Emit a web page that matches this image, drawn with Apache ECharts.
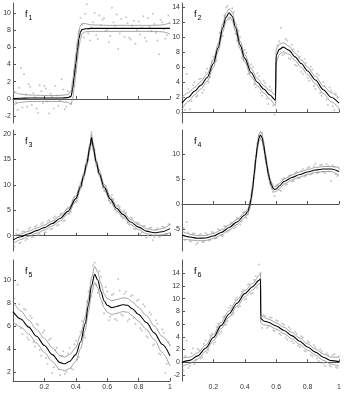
<!DOCTYPE html>
<html>
<head>
<meta charset="utf-8">
<script src="https://cdn.jsdelivr.net/npm/echarts@6/dist/echarts.min.js"></script>
<style>
  html, body { margin: 0; padding: 0; background: #fff; }
  #chart { width: 350px; height: 397px; }
</style>
</head>
<body>
<div id="chart"></div>
<script>
// x positions of the noisy observations (two interleaved sets, same in every panel)
const ptXa = [0.01,0.03,0.05,0.07,0.09,0.11,0.13,0.15,0.17,0.19,0.21,0.23,0.25,0.27,0.29,0.31,0.33,0.35,0.37,0.39,
  0.41,0.43,0.45,0.47,0.49,0.51,0.53,0.55,0.57,0.59,0.61,0.63,0.65,0.67,0.69,0.71,0.73,0.75,0.77,0.79,
  0.81,0.83,0.85,0.87,0.89,0.91,0.93,0.95,0.97,0.99]
const ptXb = [0.02,0.04,0.06,0.08,0.10,0.12,0.14,0.16,0.18,0.20,0.22,0.24,0.26,0.28,0.30,0.32,0.34,0.36,0.38,0.40,
  0.42,0.44,0.46,0.48,0.50,0.52,0.54,0.56,0.58,0.60,0.62,0.64,0.66,0.68,0.70,0.72,0.74,0.76,0.78,0.80,
  0.82,0.84,0.86,0.88,0.90,0.92,0.94,0.96,0.98,1.00]

const f1PtsA = [0.8,-1.3,3.6,2.9,-0.9,1.4,0.7,-1.1,1.6,-0.5,1.2,-1.7,0.3,1.5,-0.8,2.3,-1.2,0.9,-0.6,3.2,
  6.3,9.4,7.1,11.0,6.8,8.9,7.4,9.7,9.2,7.9,6.6,10.6,8.5,5.8,9.3,7.2,8.8,6.9,9.1,8.0,
  7.5,9.6,6.7,8.4,9.9,7.7,5.2,8.9,7.0,9.7]
const f1PtsB = [-0.4,1.3,-1.0,0.5,1.7,-0.7,0.2,-1.6,0.9,1.5,-0.3,0.6,-1.1,0.4,-0.2,1.1,-0.9,0.3,1.4,3.9,
  7.9,8.6,9.9,7.6,8.3,10.0,7.0,8.6,9.4,8.1,7.3,8.9,9.8,7.6,8.2,9.5,7.1,8.5,6.4,9.0,
  8.3,7.1,9.4,7.9,8.7,6.8,9.2,8.1,7.4,8.8]
const f2PtsA = [1.9,5.1,0.4,3.6,2.1,4.4,2.6,5.3,4.0,6.8,7.2,9.1,10.2,12.9,14.2,12.6,13.4,9.6,10.1,7.0,
  7.9,5.2,6.0,3.3,4.8,2.2,3.9,1.1,3.0,-0.3,8.9,11.3,7.8,9.6,7.1,8.4,6.2,7.4,5.1,6.6,
  4.2,5.7,3.1,4.9,2.2,3.5,1.0,2.9,0.3,1.9]
const f2PtsB = [0.3,3.1,1.5,4.0,2.2,4.5,3.0,5.8,4.7,7.4,6.9,10.6,10.2,14.0,12.4,13.9,10.5,10.9,7.3,8.3,
  5.1,6.4,3.7,5.2,2.6,4.2,1.8,3.4,0.9,6.6,9.5,7.6,9.8,7.2,9.0,6.3,8.1,5.4,7.1,4.6,
  6.1,3.5,5.1,2.6,4.0,1.7,3.3,0.8,2.5,0.4]
const f3PtsA = [-2.1,1.2,-1.4,0.9,-0.6,1.6,-0.3,2.0,0.4,2.6,0.7,3.1,1.4,3.8,2.2,4.4,3.0,5.6,4.7,7.6,
  6.8,10.4,11.1,15.0,17.2,18.1,13.7,12.9,9.5,9.8,6.9,8.0,5.1,6.0,3.8,4.9,2.5,3.6,1.4,2.6,
  0.3,1.9,-0.4,1.5,-0.9,1.2,-0.2,1.8,0.4,2.3]
const f3PtsB = [0.4,-1.5,0.8,-0.9,1.4,-0.2,1.8,0.2,2.3,0.6,2.8,1.3,3.5,2.0,4.3,2.9,5.2,4.3,7.0,6.5,
  9.6,9.9,13.8,14.9,20.4,16.9,12.5,12.0,8.8,9.1,6.4,7.2,4.6,5.7,3.4,4.5,2.2,3.4,1.3,2.5,
  0.6,1.9,0.0,1.6,-0.3,1.5,-0.1,1.7,0.3,2.2]
const f4PtsA = [-4.8,-3.6,-7.4,-5.9,-8.1,-6.2,-7.6,-5.8,-7.3,-5.6,-6.9,-5.0,-6.3,-4.4,-5.6,-3.7,-4.9,-2.8,-4.1,-1.7,
  -2.8,0.3,3.0,9.6,13.7,14.2,9.1,6.8,3.1,1.6,3.9,2.6,5.2,3.9,5.8,4.6,6.4,5.2,7.0,5.7,
  7.4,6.1,8.1,6.3,7.9,6.2,7.6,4.6,7.4,5.6]
const f4PtsB = [-7.2,-5.7,-7.5,-5.9,-7.8,-6.0,-7.6,-6.1,-7.2,-5.7,-6.8,-5.2,-6.4,-4.5,-5.3,-3.9,-4.6,-2.9,-3.5,-1.6,
  -2.1,1.9,5.2,12.2,13.1,11.0,8.4,4.0,2.4,3.7,2.8,4.9,3.8,5.6,4.5,6.2,5.1,6.6,5.5,7.2,
  5.9,7.6,6.2,7.8,6.4,8.0,6.5,7.7,6.0,7.1]
const f5PtsA = [8.4,9.6,5.8,7.5,5.0,6.9,4.6,6.2,3.9,5.4,3.2,4.8,1.9,3.9,2.2,3.4,1.8,3.6,2.3,4.4,
  3.1,5.5,5.2,8.1,8.4,11.3,9.6,10.8,8.0,9.4,6.5,8.7,6.6,10.1,7.0,8.8,6.4,8.6,6.7,8.2,
  5.8,7.9,5.1,7.2,4.3,6.5,3.6,5.7,1.9,4.6]
const f5PtsB = [6.1,7.9,5.3,7.4,4.8,6.7,4.2,6.1,3.4,5.6,2.7,4.9,2.4,4.1,1.7,3.8,2.0,4.1,2.2,4.7,
  3.3,6.4,5.0,9.0,8.6,11.5,8.9,10.3,7.1,9.0,6.8,8.8,6.5,9.1,6.9,9.0,6.6,8.7,6.2,8.3,
  5.6,7.7,5.0,7.0,4.4,6.2,3.5,5.4,2.7,4.3]
const f6PtsA = [-1.3,3.4,-0.6,2.2,0.3,1.9,0.8,3.4,1.9,4.5,3.2,6.1,4.8,7.3,6.4,8.9,7.7,10.2,8.8,11.4,
  10.0,12.3,10.9,13.6,15.4,5.4,7.3,5.6,7.0,4.9,6.5,4.3,5.9,3.6,5.2,3.0,4.5,2.4,3.9,1.7,
  3.1,0.9,2.4,0.2,1.7,-0.6,1.2,-0.7,1.3,-0.9]
const f6PtsB = [1.0,-0.9,1.4,-0.3,2.1,0.6,2.9,1.5,4.2,2.9,5.6,4.4,7.1,5.9,8.6,7.4,9.9,8.7,11.1,9.9,
  12.2,10.8,13.0,11.7,14.1,7.4,5.4,7.1,5.0,6.6,4.5,6.1,3.9,5.5,3.3,4.8,2.6,4.1,1.8,3.3,
  1.2,2.7,0.6,2.0,-0.1,1.4,-0.5,1.1,-0.8,0.9]

// fitted curve (mid) and the two band curves (hi, lo)
const f1X = [0,0.05,0.1,0.2,0.3,0.35,0.37,0.38,0.39,0.40,0.41,0.42,0.43,0.44,0.46,0.5,0.6,0.7,0.8,0.9,0.95,1]
const f1Mid = [0.05,0.08,0.1,0.1,0.1,0.15,0.3,1.2,2.6,4.1,5.6,7.0,7.8,8.05,8.15,8.2,8.2,8.2,8.2,8.2,8.2,8.2]
const f1Hi = [0.85,0.55,0.45,0.4,0.4,0.5,0.9,2.1,3.6,5.2,6.7,7.9,8.55,8.8,8.75,8.6,8.55,8.55,8.55,8.55,8.6,8.85]
const f1Lo = [-0.7,-0.4,-0.3,-0.3,-0.3,-0.4,-0.6,0.0,1.3,2.9,4.5,6.0,7.0,7.6,7.8,7.85,7.85,7.85,7.85,7.85,7.8,7.55]

const f2X = [0,0.04,0.08,0.12,0.16,0.2,0.23,0.26,0.28,0.3,0.32,0.34,0.37,0.4,0.44,0.48,0.52,0.56,0.595,0.6,0.62,0.645,0.68,0.72,0.76,0.8,0.85,0.9,0.95,1]
const f2Mid = [1.2,2.0,2.8,3.6,4.6,6.5,8.6,11.3,12.7,13.3,12.8,11.4,9.0,7.2,5.3,4.0,3.1,2.3,1.6,7.6,8.4,8.7,8.3,7.4,6.5,5.5,4.3,3.0,2.0,1.2]
const f2Hi = [2.0,2.6,3.3,4.1,5.1,7.0,9.1,11.85,13.25,13.85,13.35,11.95,9.5,7.7,5.8,4.5,3.6,2.85,2.3,8.5,9.1,9.3,8.85,7.9,7.0,6.0,4.8,3.5,2.6,1.9]
const f2Lo = [0.4,1.4,2.3,3.1,4.1,6.0,8.1,10.75,12.15,12.75,12.25,10.85,8.5,6.7,4.8,3.5,2.6,1.75,0.9,6.7,7.7,8.1,7.75,6.9,6.0,5.0,3.8,2.5,1.4,0.5]

const f3X = [0,0.05,0.1,0.15,0.2,0.25,0.3,0.35,0.4,0.43,0.45,0.47,0.49,0.5,0.51,0.53,0.55,0.58,0.62,0.66,0.7,0.75,0.8,0.85,0.9,0.95,1]
const f3Mid = [-0.85,-0.2,0.4,1.0,1.6,2.4,3.4,4.8,7.3,9.6,11.8,14.2,17.5,19.3,17.6,14.5,12.2,9.6,7.2,5.4,4.2,2.7,1.7,0.9,0.6,0.8,1.4]
const f3Hi = [-0.1,0.35,0.9,1.5,2.1,2.9,3.9,5.3,7.8,10.1,12.3,14.8,18.2,20.1,18.3,15.0,12.7,10.1,7.7,5.9,4.7,3.2,2.2,1.4,1.1,1.4,2.2]
const f3Lo = [-1.6,-0.75,-0.1,0.5,1.1,1.9,2.9,4.3,6.8,9.1,11.3,13.6,16.8,18.5,16.9,14.0,11.7,9.1,6.7,4.9,3.7,2.2,1.2,0.4,0.1,0.2,0.6]

const f4X = [0,0.05,0.1,0.15,0.2,0.25,0.3,0.35,0.4,0.42,0.43,0.44,0.45,0.46,0.47,0.48,0.49,0.5,0.51,0.52,0.53,0.54,0.55,0.56,0.57,0.58,0.59,0.6,0.62,0.65,0.7,0.75,0.8,0.85,0.9,0.95,1]
const f4Mid = [-6.2,-6.6,-6.85,-6.8,-6.4,-5.7,-4.7,-3.6,-2.2,-1.5,-0.5,1.0,3.2,6.0,9.0,11.5,13.2,13.8,13.3,11.8,9.8,7.8,6.0,4.7,3.8,3.2,2.9,3.0,3.6,4.5,5.3,5.9,6.4,6.8,7.0,7.0,6.5]
const f4Hi = [-5.4,-6.05,-6.35,-6.3,-5.9,-5.2,-4.2,-3.1,-1.7,-1.0,0.0,1.6,3.9,6.7,9.7,12.2,13.9,14.5,14.0,12.5,10.5,8.4,6.6,5.2,4.3,3.7,3.4,3.5,4.1,5.0,5.8,6.4,6.9,7.3,7.5,7.5,7.3]
const f4Lo = [-7.0,-7.15,-7.35,-7.3,-6.9,-6.2,-5.2,-4.1,-2.7,-2.0,-1.0,0.4,2.5,5.3,8.3,10.8,12.5,13.1,12.6,11.1,9.1,7.2,5.4,4.2,3.3,2.7,2.4,2.5,3.1,4.0,4.8,5.4,5.9,6.3,6.5,6.5,5.7]

const f5X = [0,0.05,0.1,0.15,0.2,0.25,0.3,0.33,0.36,0.4,0.43,0.46,0.48,0.5,0.52,0.54,0.56,0.58,0.6,0.63,0.66,0.7,0.73,0.76,0.8,0.85,0.9,0.95,1]
const f5Mid = [7.25,6.6,5.9,5.1,4.3,3.5,2.8,2.7,2.9,3.5,4.6,6.2,7.8,9.5,10.5,10.0,9.0,8.2,7.8,7.6,7.7,7.85,7.8,7.5,7.0,6.3,5.4,4.4,3.4]
const f5Hi = [8.15,7.3,6.5,5.7,4.9,4.1,3.4,3.3,3.5,4.1,5.2,6.8,8.4,10.2,11.2,10.7,9.7,8.8,8.4,8.2,8.3,8.45,8.4,8.1,7.6,6.9,6.0,5.1,4.3]
const f5Lo = [6.35,5.9,5.3,4.5,3.7,2.9,2.2,2.1,2.3,2.9,4.0,5.6,7.2,8.8,9.8,9.3,8.3,7.6,7.2,7.0,7.1,7.25,7.2,6.9,6.4,5.7,4.8,3.7,2.5]

const f6X = [0,0.05,0.1,0.15,0.2,0.25,0.3,0.35,0.4,0.45,0.49,0.5,0.502,0.52,0.55,0.6,0.65,0.7,0.75,0.8,0.85,0.9,0.95,1]
const f6Mid = [0.0,0.3,1.0,2.2,3.9,5.8,7.6,9.3,10.8,11.9,12.9,13.1,6.9,6.5,6.3,5.7,5.0,4.2,3.3,2.4,1.6,0.8,0.25,0.1]
const f6Hi = [0.7,0.8,1.5,2.7,4.4,6.3,8.1,9.8,11.3,12.4,13.6,14.0,7.5,7.1,6.8,6.2,5.5,4.7,3.8,2.9,2.1,1.3,0.8,0.8]
const f6Lo = [-0.7,-0.2,0.5,1.7,3.4,5.3,7.1,8.8,10.3,11.4,12.3,12.5,6.2,5.9,5.8,5.2,4.5,3.7,2.8,1.9,1.1,0.3,-0.3,-0.6]

const yTicks = [
  [-2,0,2,4,6,8,10],
  [0,2,4,6,8,10,12,14],
  [0,5,10,15,20],
  [-5,0,5,10],
  [2,4,6,8,10],
  [-2,0,2,4,6,8,10,12,14]
]
const yRanges = [[-2.8,11.15],[-1.45,14.6],[-3,20.8],[-9.4,14.8],[1.2,11.75],[-2.95,16.1]]
const xTickLabels = [0.2,0.4,0.6,0.8,1]
const panelNames = ['1','2','3','4','5','6']

const panels = [
  { a: f1PtsA, b: f1PtsB, x: f1X, mid: f1Mid, hi: f1Hi, lo: f1Lo },
  { a: f2PtsA, b: f2PtsB, x: f2X, mid: f2Mid, hi: f2Hi, lo: f2Lo },
  { a: f3PtsA, b: f3PtsB, x: f3X, mid: f3Mid, hi: f3Hi, lo: f3Lo },
  { a: f4PtsA, b: f4PtsB, x: f4X, mid: f4Mid, hi: f4Hi, lo: f4Lo },
  { a: f5PtsA, b: f5PtsB, x: f5X, mid: f5Mid, hi: f5Hi, lo: f5Lo },
  { a: f6PtsA, b: f6PtsB, x: f6X, mid: f6Mid, hi: f6Hi, lo: f6Lo }
]

// layout: two columns, three rows
const colLeft = [13, 182]
const rowBox = [[3, 120], [130, 121], [260, 121]]
const plotW = 157

const axisGray = '#555'
const labelStyle = { color: '#333', fontSize: 7, fontFamily: 'Liberation Sans' }

const zip = (xs, ys) => xs.map((x, i) => [x, ys[i]])

const grid = [], xAxis = [], yAxis = [], series = [], graphic = []

panels.forEach((p, i) => {
  const col = i % 2
  const row = Math.floor(i / 2)
  const left = colLeft[col]
  const top = rowBox[row][0]
  grid.push({ left: left, top: top, width: plotW, height: rowBox[row][1] })

  xAxis.push({
    gridIndex: i,
    type: 'value',
    min: 0,
    max: 1,
    interval: 0.2,
    splitLine: { show: false },
    axisLine: { lineStyle: { color: axisGray, width: 1 } },
    axisTick: { inside: true, length: 3, lineStyle: { color: axisGray } },
    axisLabel: Object.assign({
      show: row === 2,
      margin: 3,
      customValues: xTickLabels
    }, labelStyle)
  })

  yAxis.push({
    gridIndex: i,
    type: 'value',
    min: yRanges[i][0],
    max: yRanges[i][1],
    splitLine: { show: false },
    axisLine: { show: true, lineStyle: { color: axisGray, width: 1 } },
    axisTick: { show: true, inside: true, length: 3, customValues: yTicks[i], lineStyle: { color: axisGray } },
    axisLabel: Object.assign({ margin: 2, customValues: yTicks[i] }, labelStyle)
  })

  series.push({
    type: 'scatter',
    xAxisIndex: i, yAxisIndex: i,
    symbolSize: 2,
    itemStyle: { color: '#b8b8b8' },
    data: zip(ptXa, p.a).concat(zip(ptXb, p.b)),
    silent: true
  })
  const lineOf = (ys, color, width) => ({
    type: 'line',
    xAxisIndex: i, yAxisIndex: i,
    showSymbol: false,
    symbol: 'none',
    smooth: 0.3,
    smoothMonotone: 'x',
    lineStyle: { color: color, width: width },
    data: zip(p.x, ys),
    silent: true
  })
  series.push(lineOf(p.lo, '#8c8c8c', 0.8))
  series.push(lineOf(p.hi, '#8c8c8c', 0.8))
  series.push(lineOf(p.mid, '#000', 1.1))

  // panel name f with subscript
  graphic.push({
    type: 'text', left: left + 12, top: top + 7,
    style: { text: 'f', fill: '#000', font: '9px "Liberation Sans"' }
  })
  graphic.push({
    type: 'text', left: left + 15.5, top: top + 12,
    style: { text: panelNames[i], fill: '#000', font: '7px "Liberation Sans"' }
  })
})

const chart = echarts.init(document.getElementById('chart'))
chart.setOption({
  animation: false,
  backgroundColor: '#fff',
  grid: grid,
  xAxis: xAxis,
  yAxis: yAxis,
  series: series,
  graphic: graphic
})
</script>
</body>
</html>
